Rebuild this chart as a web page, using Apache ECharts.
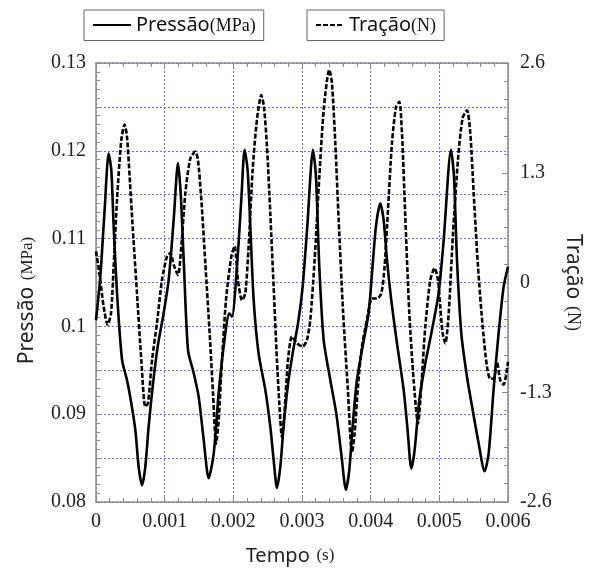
<!DOCTYPE html>
<html>
<head>
<meta charset="utf-8">
<script src="https://cdn.jsdelivr.net/npm/echarts@6/dist/echarts.min.js"></script>
<style>
  html, body { margin: 0; padding: 0; background: #fff; }
  #main { width: 595px; height: 579px; }
</style>
</head>
<body>
<div id="main"></div>
<script>
// Pressão (MPa), curva contínua
var pressTime = [0, 0.000063, 0.000126, 0.000184, 0.000223, 0.000257, 0.000306, 0.000379, 0.000451, 0.000515,
  0.000573, 0.000621, 0.00067, 0.000718, 0.000767, 0.000825, 0.000898, 0.000985, 0.001058, 0.001131,
  0.001194, 0.001233, 0.001277, 0.00134, 0.001422, 0.001495, 0.001568, 0.001641, 0.001714, 0.001786,
  0.001859, 0.001942, 0.00198, 0.002053, 0.002116, 0.002164, 0.002208, 0.002247, 0.002296, 0.002368,
  0.002465, 0.002538, 0.002587, 0.002635, 0.002684, 0.002732, 0.002791, 0.002863, 0.002941, 0.003009,
  0.003077, 0.00316, 0.003203, 0.003252, 0.003315, 0.003412, 0.003499, 0.003572, 0.00364, 0.003689,
  0.003737, 0.0038, 0.003883, 0.00397, 0.004019, 0.004077, 0.00414, 0.004189, 0.004237, 0.0043,
  0.004383, 0.00448, 0.004538, 0.004592, 0.00464, 0.004708, 0.004796, 0.004893, 0.00499, 0.005063,
  0.00517, 0.005213, 0.005257, 0.00532, 0.005402, 0.005485, 0.005572, 0.005659, 0.005718, 0.00579,
  0.005863, 0.005936, 0.006];
var pressVal = [0.1007, 0.1057, 0.1133, 0.1197, 0.1178, 0.1114, 0.1038, 0.0962, 0.0939, 0.0912,
  0.0882, 0.0840, 0.0819, 0.0840, 0.0886, 0.0931, 0.0977, 0.1015, 0.1053, 0.1121,
  0.1186, 0.1152, 0.1076, 0.0973, 0.0947, 0.0920, 0.0871, 0.0827, 0.0855, 0.0924,
  0.0977, 0.1015, 0.1011, 0.1068, 0.1144, 0.1201, 0.1178, 0.1114, 0.1030, 0.0969,
  0.0928, 0.0886, 0.0848, 0.0816, 0.0840, 0.0886, 0.0931, 0.0969, 0.1003, 0.1045,
  0.1114, 0.1201, 0.1171, 0.1068, 0.0985, 0.0939, 0.0901, 0.0855, 0.0814, 0.0837,
  0.0886, 0.0939, 0.0977, 0.1015, 0.1060, 0.1114, 0.1140, 0.1121, 0.1076, 0.1030,
  0.0981, 0.0928, 0.0882, 0.0838, 0.0859, 0.0916, 0.0958, 0.0996, 0.1038, 0.1098,
  0.1201, 0.1171, 0.1076, 0.0992, 0.0943, 0.0905, 0.0867, 0.0835, 0.0855, 0.0928,
  0.0992, 0.1045, 0.1068];

// Tração (N), curva tracejada
var tracTime = [0, 0.000049, 0.000112, 0.00017, 0.000218, 0.000257, 0.000306, 0.000369, 0.000417, 0.000451,
  0.00049, 0.000534, 0.000597, 0.00066, 0.000718, 0.000757, 0.000816, 0.000888, 0.000961, 0.001034,
  0.001083, 0.001131, 0.001194, 0.001243, 0.001301, 0.001374, 0.001447, 0.001485, 0.001534, 0.001592,
  0.001655, 0.001704, 0.001748, 0.001786, 0.001835, 0.001893, 0.001971, 0.002019, 0.002067, 0.002126,
  0.002174, 0.002223, 0.002281, 0.002344, 0.002407, 0.002446, 0.00249, 0.002538, 0.002587, 0.002635,
  0.002684, 0.002708, 0.002747, 0.002796, 0.002854, 0.002927, 0.003009, 0.003072, 0.003121, 0.003184,
  0.003252, 0.00332, 0.003398, 0.003436, 0.003485, 0.003534, 0.003597, 0.003665, 0.003728, 0.003766,
  0.003815, 0.003873, 0.003946, 0.004019, 0.004092, 0.004155, 0.004203, 0.004252, 0.00431, 0.004369,
  0.004417, 0.004456, 0.004504, 0.004563, 0.004626, 0.004689, 0.004737, 0.004796, 0.004869, 0.004932,
  0.00498, 0.005014, 0.005048, 0.005087, 0.005136, 0.005199, 0.005271, 0.005339, 0.005402, 0.005451,
  0.0055, 0.005563, 0.005631, 0.005694, 0.005742, 0.005791, 0.005839, 0.005888, 0.005936, 0.006];
var tracVal = [0.37, 0.11, -0.29, -0.50, -0.37, 0.19, 0.98, 1.69, 1.87, 1.73,
  1.25, 0.66, -0.13, -0.92, -1.47, -1.43, -0.92, -0.48, 0.03, 0.31,
  0.35, 0.21, 0.09, 0.43, 1.06, 1.47, 1.55, 1.45, 0.98, 0.23,
  -0.60, -1.31, -1.91, -1.63, -0.92, -0.21, 0.31, 0.43, 0.03, -0.21,
  -0.13, 0.43, 1.33, 1.93, 2.22, 2.08, 1.61, 0.82, -0.05, -0.92,
  -1.63, -1.83, -1.51, -0.92, -0.64, -0.72, -0.76, -0.68, -0.44, 0.27,
  1.25, 2.08, 2.52, 2.36, 1.65, 0.74, -0.33, -1.23, -2.02, -1.79,
  -1.23, -0.76, -0.44, -0.19, -0.19, -0.13, 0.19, 0.86, 1.65, 2.08,
  2.14, 1.77, 0.78, -0.37, -1.16, -1.67, -1.23, -0.52, 0.03, 0.17,
  0.03, -0.29, -0.60, -0.72, -0.37, 0.58, 1.45, 1.95, 2.04, 1.77,
  1.06, 0.19, -0.52, -1.00, -1.14, -1.14, -0.94, -1.16, -1.21, -0.94];

var pressData = pressTime.map(function (t, i) { return [t, pressVal[i]]; });
var tracData = tracTime.map(function (t, i) { return [t, tracVal[i]]; });

var serif = '"Liberation Serif", "Times New Roman", serif';
var sans = '"Noto Sans", "DejaVu Sans", sans-serif';
var frame = '#8a8a8a';
var gridLine = { show: true, lineStyle: { color: '#6a6ad0', width: 1, type: [2, 2] } };

var legendRich = {
  a: { fontFamily: sans, fontSize: 20, color: '#111' },
  b: { fontFamily: serif, fontSize: 18, color: '#111', padding: [3, 0, 0, 0] }
};
function legendBox(name, left, iconW) {
  return {
    data: [name], left: left, top: 10, orient: 'horizontal',
    selectedMode: false, itemWidth: iconW, itemHeight: 12, itemGap: 0,
    padding: [5, 8, 5, 8], borderColor: '#666', borderWidth: 1,
    itemStyle: { opacity: 0 },
    textStyle: { rich: legendRich },
    formatter: function (n) {
      return n === 'Pressão' ? '{a|Pressão}{b|(MPa)}' : '{a|Tração}{b|(N)}';
    }
  };
}

var chart = echarts.init(document.getElementById('main'), null, { renderer: 'canvas' });
chart.setOption({
  animation: false,
  backgroundColor: '#fff',
  legend: [legendBox('Pressão', 84, 38), legendBox('Tração', 307, 28)],
  grid: { left: 96, right: 87, top: 63, bottom: 77, containLabel: false },
  xAxis: [{
    type: 'value', min: 0, max: 0.006, interval: 0.001,
    name: '{a|Tempo}  {b|(s)}', nameLocation: 'middle', nameGap: 44,
    nameTextStyle: {
      padding: [0, 24, 0, 0],
      rich: { a: { fontFamily: sans, fontSize: 20, color: '#222' }, b: { fontFamily: serif, fontSize: 17, color: '#222' } }
    },
    axisLine: { show: true, onZero: false, lineStyle: { color: frame, width: 1.5 } },
    axisTick: { show: true, inside: true, length: 6, lineStyle: { color: frame } },
    minorTick: { show: true, splitNumber: 5, length: 4, lineStyle: { color: frame } },
    axisLabel: {
      margin: 10, fontFamily: serif, fontSize: 20, color: '#222',
      formatter: function (v) { return String(Math.round(v * 10000) / 10000); }
    },
    splitLine: gridLine
  }, {
    type: 'value', position: 'top', min: 0, max: 0.006, interval: 0.001,
    axisLine: { show: true, onZero: false, lineStyle: { color: frame, width: 1.5 } },
    axisTick: { show: true, inside: true, length: 6, lineStyle: { color: frame } },
    minorTick: { show: true, splitNumber: 5, length: 4, lineStyle: { color: frame } },
    axisLabel: { show: false },
    splitLine: { show: false }
  }],
  yAxis: [{
    type: 'value', min: 0.08, max: 0.13, interval: 0.005,
    name: '{a|Pressão}  {b|(MPa)}', nameLocation: 'middle', nameGap: 58, nameRotate: 90,
    nameTextStyle: {
      padding: [0, 36, 0, 0],
      rich: { a: { fontFamily: sans, fontSize: 21, color: '#222' }, b: { fontFamily: serif, fontSize: 17, color: '#222' } }
    },
    axisLine: { show: true, onZero: false, lineStyle: { color: frame, width: 1.5 } },
    axisTick: { show: true, inside: true, length: 6, lineStyle: { color: frame } },
    minorTick: { show: true, splitNumber: 5, length: 4, lineStyle: { color: frame } },
    axisLabel: {
      margin: 10, fontFamily: serif, fontSize: 20, color: '#222',
      formatter: function (v) {
        var k = Math.round(v * 1000);
        return k % 10 === 0 ? String(k / 1000) : '';
      }
    },
    splitLine: gridLine
  }, {
    type: 'value', position: 'right', min: -2.6, max: 2.6, interval: 1.3,
    name: '{a|Tração}  {b|(N)}', nameLocation: 'middle', nameGap: 48, nameRotate: -90,
    nameTextStyle: {
      rich: { a: { fontFamily: sans, fontSize: 21, color: '#222' }, b: { fontFamily: serif, fontSize: 18, color: '#222' } }
    },
    axisLine: { show: true, onZero: false, lineStyle: { color: frame, width: 1.5 } },
    axisTick: { show: true, inside: true, length: 6, lineStyle: { color: frame } },
    minorTick: { show: true, splitNumber: 6, length: 4, lineStyle: { color: frame } },
    axisLabel: {
      margin: 12, fontFamily: serif, fontSize: 20, color: '#222',
      formatter: function (v) { return String(Math.round(v * 10) / 10); }
    },
    splitLine: { show: false }
  }],
  series: [{
    name: 'Pressão', type: 'line', xAxisIndex: 0, yAxisIndex: 0,
    data: pressData, symbol: 'none', smooth: 0.25,
    lineStyle: { color: '#000', width: 2.6, type: 'solid' },
    itemStyle: { color: '#000' }
  }, {
    name: 'Tração', type: 'line', xAxisIndex: 0, yAxisIndex: 1,
    data: tracData, symbol: 'none', smooth: 0.25,
    lineStyle: { color: '#000', width: 2.6, type: [5, 2] },
    itemStyle: { color: '#000' }
  }]
});
</script>
</body>
</html>
